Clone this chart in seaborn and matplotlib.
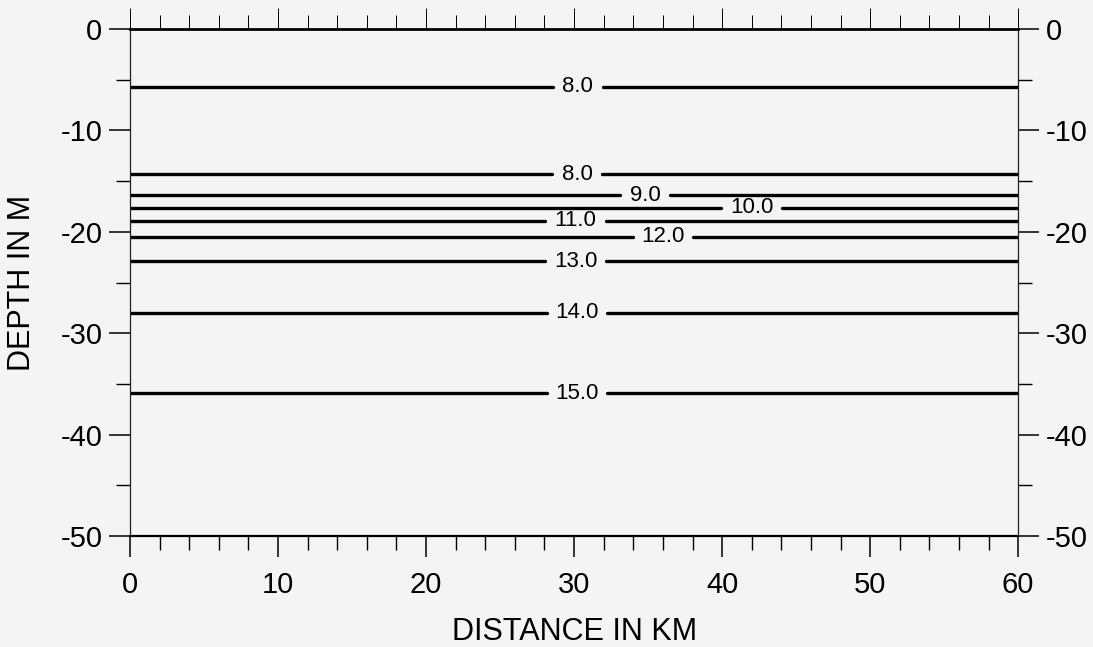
import numpy as np
import pandas as pd
import matplotlib
matplotlib.use("Agg")
import matplotlib.pyplot as plt
import seaborn as sns
from matplotlib.ticker import MultipleLocator

# contour levels (temperature) and their depth (m), label position along the line (km)
levels = ["8.0", "8.0", "9.0", "10.0", "11.0", "12.0", "13.0", "14.0", "15.0"]
depths = [-5.7, -14.3, -16.4, -17.6, -18.9, -20.5, -22.9, -28.0, -35.9]
label_x = [30.25, 30.2, 34.8, 42.0, 30.1, 36.0, 30.1, 30.2, 30.2]

x_range = [0, 60]
y_range = [-50, 0]

bg = "#f4f4f4"

sns.set_style("ticks")
plt.rcParams["font.family"] = ["Liberation Sans", "DejaVu Sans"]
plt.rcParams["text.color"] = "black"
plt.rcParams["axes.labelcolor"] = "black"
plt.rcParams["xtick.color"] = "black"
plt.rcParams["ytick.color"] = "black"

fig = plt.figure(figsize=(10.93, 6.47), dpi=100, facecolor=bg)
ax = fig.add_axes([0.119, 0.1716, 0.8125, 0.7834])
ax.set_facecolor(bg)

# build line segments, broken where the label sits
rows = []
for i, (lev, d, lx) in enumerate(zip(levels, depths, label_x)):
    half = 1.7 if len(lev) == 3 else 2.05
    rows.append({"seg": f"{i}a", "x": x_range[0], "y": d})
    rows.append({"seg": f"{i}a", "x": lx - half, "y": d})
    rows.append({"seg": f"{i}b", "x": lx + half, "y": d})
    rows.append({"seg": f"{i}b", "x": x_range[1], "y": d})
df = pd.DataFrame(rows)

sns.lineplot(data=df, x="x", y="y", units="seg", estimator=None,
             color="black", linewidth=2.4, ax=ax, legend=False)

for lev, d, lx in zip(levels, depths, label_x):
    ax.text(lx, d, lev, ha="center", va="center", fontsize=16, color="black")

ax.set_xlim(x_range)
ax.set_ylim(y_range)

ax.xaxis.set_major_locator(MultipleLocator(10))
ax.xaxis.set_minor_locator(MultipleLocator(2))
ax.yaxis.set_major_locator(MultipleLocator(10))
ax.yaxis.set_minor_locator(MultipleLocator(5))

for s in ["left", "right"]:
    ax.spines[s].set_linewidth(0.9)
    ax.spines[s].set_color("#222222")
ax.spines["top"].set_linewidth(2.0)
ax.spines["top"].set_color("black")
ax.spines["bottom"].set_linewidth(1.6)
ax.spines["bottom"].set_color("black")

ax.tick_params(axis="both", which="major", labelsize=21, width=1.1, length=15,
               direction="out", pad=5)
ax.tick_params(axis="both", which="minor", width=1.0, length=10, direction="out")
ax.tick_params(axis="x", which="both", top=True, labeltop=False)
ax.tick_params(axis="y", which="both", right=True, labelright=True)
ax.tick_params(axis="x", which="major", pad=10)

# the ticks on the top edge are faint and thin
for t in ax.xaxis.get_major_ticks() + ax.xaxis.get_minor_ticks():
    t.tick2line.set_color("#666666")
    t.tick2line.set_markeredgewidth(0.7)

ax.set_yticks([0, -10, -20, -30, -40, -50])
ax.set_yticklabels(["0", "-10", "-20", "-30", "-40", "-50"])

ax.set_xlabel("DISTANCE IN KM", fontsize=22, labelpad=13)
ax.set_ylabel("DEPTH IN M", fontsize=22, labelpad=17)

fig.savefig("out.png", dpi=100, facecolor=bg)
